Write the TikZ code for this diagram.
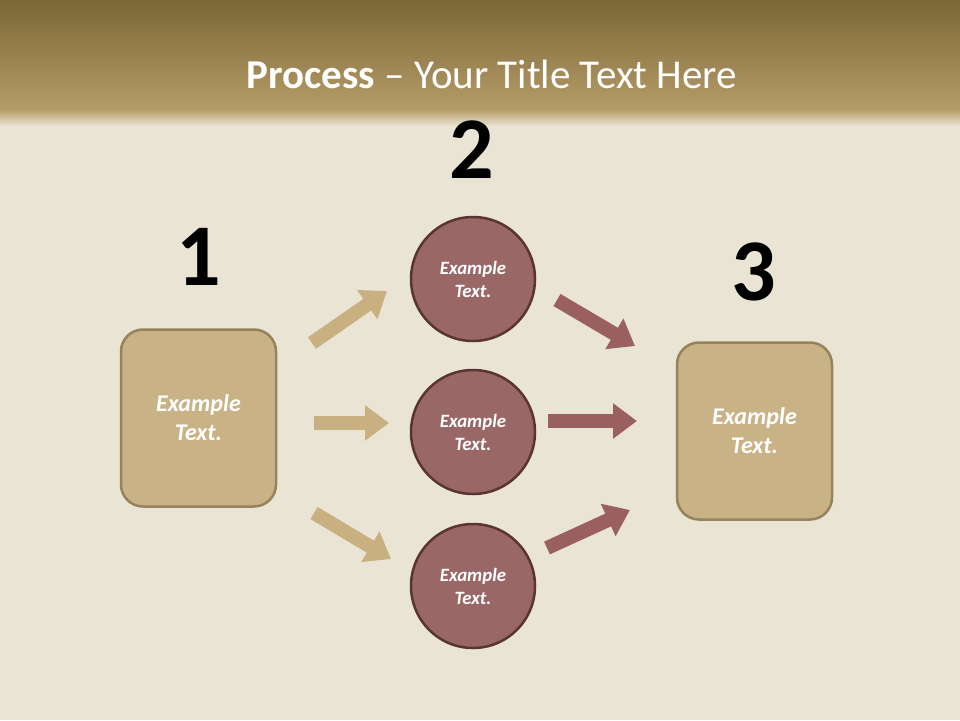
\documentclass[tikz,border=0pt]{standalone}
\usepackage{fontspec}
\setmainfont{Carlito}
\usetikzlibrary{arrows.meta}
\definecolor{parch}{HTML}{EAE4D5}
\definecolor{bartop}{HTML}{7A6636}
\definecolor{barbot}{HTML}{B59D68}
\definecolor{tanfill}{HTML}{C9B286}
\definecolor{tanedge}{HTML}{96835C}
\definecolor{redfill}{HTML}{9A6767}
\definecolor{rededge}{HTML}{5A3434}
\definecolor{tanarrow}{HTML}{C8B080}
\definecolor{redarrow}{HTML}{9A6060}
\tikzset{
  boxnode/.style={draw=tanedge, fill=tanfill, line width=2.5pt, rounded corners=22pt,
    minimum width=155pt, minimum height=177pt, align=center, text=white,
    font=\fontsize{24}{29}\selectfont\bfseries\itshape},
  circnode/.style={circle, draw=rededge, fill=redfill, line width=2.5pt,
    minimum size=124pt, inner sep=0pt, align=center, text=white,
    font=\fontsize{18.8}{23}\selectfont\bfseries\itshape},
  numnode/.style={font=\fontsize{88}{88}\selectfont\bfseries, text=black},
  blockarrow/.style={line width=14pt, -{Triangle[width=34pt,length=24pt]}},
  tanarr/.style={blockarrow, draw=tanarrow},
  redarr/.style={blockarrow, draw=redarrow}
}
\begin{document}
\begin{tikzpicture}[x=1pt,y=-1pt]
\useasboundingbox (0,0) rectangle (960,720);
\fill[parch] (0,0) rectangle (960,720);
\shade[top color=bartop, bottom color=barbot] (0,0) rectangle (960,110);
\shade[top color=barbot, bottom color=parch] (0,109.5) rectangle (960,126);
\node[text=white, font=\fontsize{41}{44}\selectfont, anchor=base] (title) at (492,88)
  {\textbf{Process} – Your Title Text Here};
\node[boxnode] (box1) at (198.5,418) {Example\\Text.};
\node[boxnode] (box3) at (754.5,431) {Example\\Text.};
\node[circnode] (c1) at (473,279) {Example\\Text.};
\node[circnode] (c2) at (473,432) {Example\\Text.};
\node[circnode] (c3) at (473,586) {Example\\Text.};
\node[numnode, anchor=base] (n1) at (199,285) {1};
\node[numnode, anchor=base] (n2) at (472,178) {2};
\node[numnode, anchor=base] (n3) at (754,300) {3};
\coordinate (a1s) at (312,343); \coordinate (a1e) at (387,291);
\coordinate (a2s) at (314,423); \coordinate (a2e) at (389,423);
\coordinate (a3s) at (314,513); \coordinate (a3e) at (391,559);
\coordinate (b1s) at (557,300); \coordinate (b1e) at (635,346);
\coordinate (b2s) at (548,421); \coordinate (b2e) at (637,421);
\coordinate (b3s) at (547,548); \coordinate (b3e) at (630,510);
\draw[tanarr] (a1s) -- (a1e);
\draw[tanarr] (a2s) -- (a2e);
\draw[tanarr] (a3s) -- (a3e);
\draw[redarr] (b1s) -- (b1e);
\draw[redarr] (b2s) -- (b2e);
\draw[redarr] (b3s) -- (b3e);
\end{tikzpicture}
\end{document}
